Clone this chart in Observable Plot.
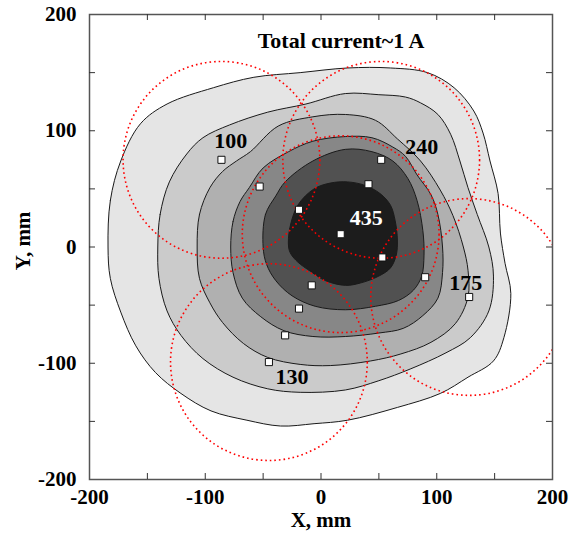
<!DOCTYPE html>
<html><head><meta charset="utf-8">
<script src="https://cdn.jsdelivr.net/npm/d3@7"></script>
<script src="https://cdn.jsdelivr.net/npm/@observablehq/plot@0.6"></script>
<style>body{margin:0;background:#fff}</style>
</head><body><div id="chart"></div>
<script>
// Contour boundaries (X, Y in mm), outer to inner
const level1 = [[-184,0],[-182,40],[-173,74],[-156,106],[-133,123],[-93,137],[-58,146],[-18,150],[23,154],[60,154],[92,150],[115,137],[132,117],[140,98],[146,74],[153,46],[155,12],[159,-14],[164,-40],[158,-78],[149,-98],[127,-112],[103,-126],[66,-138],[23,-149],[-6,-152],[-35,-154],[-64,-149],[-95,-141],[-121,-126],[-143,-108],[-160,-85],[-173,-56],[-182,-27]];
const level2 = [[-141,0],[-139,28],[-131,56],[-116,80],[-102,94],[-79,105],[-46,116],[-13,123],[21,132],[50,131],[73,129],[86,124],[101,114],[112,97],[120,74],[127,51],[135,28],[145,0],[149,-25],[145,-55],[129,-78],[108,-91],[77,-105],[50,-115],[21,-123],[-18,-125],[-46,-122],[-76,-112],[-102,-96],[-121,-76],[-133,-55],[-140,-27]];
const level3 = [[-107,0],[-105,28],[-96,51],[-85,65],[-73,74],[-61,82],[-37,104],[-7,112],[21,114],[47,109],[66,93],[86,74],[103,49],[114,27],[123,0],[127,-20],[127,-43],[116,-66],[95,-82],[69,-92],[43,-98],[8,-102],[-18,-101],[-46,-95],[-67,-83],[-85,-65],[-96,-48],[-105,-27]];
const level4 = [[-78,0],[-76,22],[-70,39],[-62,51],[-50,68],[-28,82],[-7,91],[21,95],[44,94],[62,86],[73,78],[83,62],[95,45],[101,28],[105,0],[105,-22],[101,-44],[88,-59],[71,-70],[50,-74],[21,-77],[-7,-77],[-32,-72],[-52,-60],[-68,-44],[-76,-22]];
const level5 = [[-50,0],[-48,28],[-39,44],[-31,56],[-7,74],[21,84],[44,82],[62,74],[75,59],[83,40],[88,14],[89,-7],[87,-25],[80,-37],[67,-46],[47,-51],[21,-54],[-5,-51],[-25,-42],[-39,-29],[-47,-15]];
const level6 = [[-28,0],[-27,16],[-20,36],[-6,50],[8,55],[23,56],[38,53],[51,46],[60,36],[64,23],[66,6],[65,-7],[60,-18],[50,-25],[34,-31],[21,-33],[4,-29],[-9,-21],[-20,-13],[-26,-6]];
const levels = [level1, level2, level3, level4, level5, level6];
const levelFills = ["#e5e5e5", "#cbcbcb", "#b0b0b0", "#878787", "#515151", "#1c1c1c"];

// Measurement points (white squares)
const probeX = [-86, -53, -19, 17, 41, 52, 53, -8, -19, -31, -45, 90, 128];
const probeY = [75, 52, 32, 11, 54, 75, -9, -33, -53, -76, -99, -26, -43];

// Dotted circles: centers and radius (mm)
const circleX = [-86, 52, 128, -45, 17];
const circleY = [75, 75, -43, -99, 11];
const circleRadius = 85;

// Contour value labels
const labelText = ["100", "240", "435", "175", "130"];
const labelX = [-78, 87, 39, 125, -25];
const labelY = [91, 86, 25, -31, -112];

const tickLabels = [-200, -100, 0, 100, 200];
const minorTicks = [-150, -100, -50, 0, 50, 100, 150];

const W = 569, H = 535, mL = 89, mR = 17, mT = 14, mB = 56;
const innerW = W - mL - mR, innerH = H - mT - mB;
const rPx = circleRadius * innerW / 400;
const tickLen = 6;

const probes = probeX.map((x, i) => ({x, y: probeY[i]}));
const circles = circleX.map((x, i) => ({x, y: circleY[i]}));
const labels = labelText.map((t, i) => ({t, x: labelX[i], y: labelY[i]}));

const contourMarks = levels.map((pts, i) => Plot.line(pts, {
  x: d => d[0], y: d => d[1], curve: "catmull-rom-closed",
  fill: levelFills[i], stroke: "#1a1a1a", strokeWidth: 1
}));

const chart = Plot.plot({
  width: W, height: H,
  marginLeft: mL, marginRight: mR, marginTop: mT, marginBottom: mB,
  x: {domain: [-200, 200]},
  y: {domain: [-200, 200]},
  style: {fontFamily: "Liberation Serif, Times New Roman, serif", fontSize: "21px", fontWeight: "bold", color: "#000", background: "#fff"},
  marks: [
    ...contourMarks,
    Plot.dot(circles, {x: "x", y: "y", r: rPx, fill: "none", stroke: "#ff0000", strokeWidth: 1.6, strokeDasharray: "1.6 3", clip: true}),
    Plot.dot(probes, {x: "x", y: "y", symbol: "square", r: 4, fill: "white", stroke: "#111", strokeWidth: 1}),
    Plot.text(labels, {x: "x", y: "y", text: "t", fontSize: 22, fontWeight: "bold",
      fill: d => d.t === "435" ? "white" : "black"}),
    Plot.text(["Total current~1 A"], {frameAnchor: "top", lineAnchor: "middle", dx: 20, dy: 26, fontSize: 22}),
    Plot.frame({stroke: "#555", strokeWidth: 1.5}),
    Plot.tickX(minorTicks, {x: d => d, insetTop: innerH - tickLen, stroke: "#333"}),
    Plot.tickX(minorTicks, {x: d => d, insetBottom: innerH - tickLen, stroke: "#333"}),
    Plot.tickY(minorTicks, {y: d => d, insetRight: innerW - tickLen, stroke: "#333"}),
    Plot.tickY(minorTicks, {y: d => d, insetLeft: innerW - tickLen, stroke: "#333"}),
    Plot.axisX({ticks: tickLabels, tickSize: 0, tickPadding: 10, tickFormat: d => String(d), label: null}),
    Plot.axisY({ticks: tickLabels, tickSize: 0, tickPadding: 13, tickFormat: d => String(d), label: null}),
    Plot.text(["X, mm"], {frameAnchor: "bottom", lineAnchor: "middle", dy: 41}),
    Plot.text(["Y, mm"], {frameAnchor: "left", textAnchor: "middle", lineAnchor: "middle", dx: -66, dy: -6, rotate: -90})
  ]
});
document.getElementById("chart").appendChild(chart);
</script></body></html>
